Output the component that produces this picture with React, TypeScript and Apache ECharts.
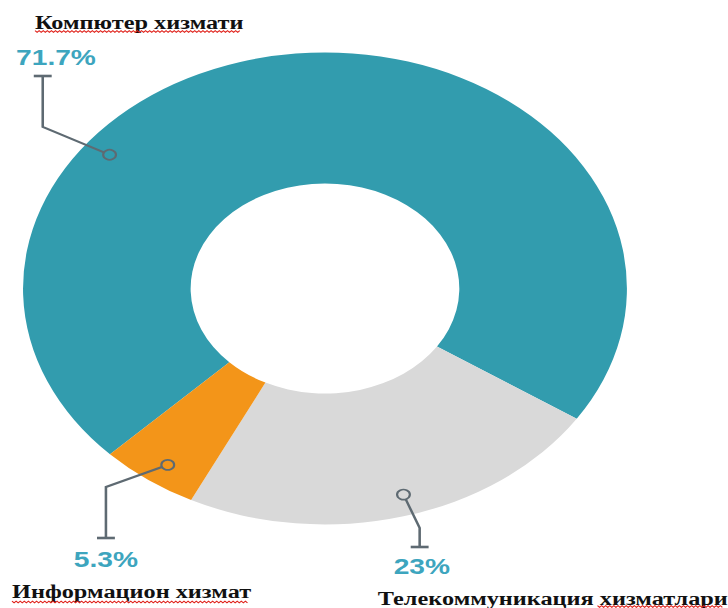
import React, { useEffect, useRef } from "react";
import * as echarts from "echarts";

// ---- data ----
const categories = ["Компютер хизмати", "Телекоммуникация хизматлари", "Информацион хизмат"];
const values = [71.7, 23, 5.3];
const colors = ["#329CAE", "#D9D9D9", "#F39519"];

// ---- layout (chart coordinates, before the horizontal stretch) ----
const CHART_W = 569;
const CHART_H = 608;
const SCALE_X = 728 / CHART_W;
const CENTER: [number, number] = [254, 288.5];
const RADII: [number, number] = [105, 236];
const START_ANGLE = 224.6;

const anchorShift = [46, 1.5, 1];
const anchorR = 215;
const bends = [[33.4, 127], [328, 528], [82.8, 487]];
const ends = [[33.4, 76], [328, 547], [82.8, 538]];
const pctPos = [[43.75, 57.5], [329.7, 566.5], [82.8, 559.5]];
const namePos = [[27.3, 23], [295.3, 599], [9.4, 592]];
const underlines = [[27.4, 187.6, 31.5], [467, 565, 606.5], [9.4, 194, 602]];

const LINE_COLOR = "#5E6A72";
const PCT_COLOR = "#3DA5BE";

export default function App() {
  const ref = useRef<HTMLDivElement>(null);

  useEffect(() => {
    if (!ref.current) return;
    const chart = echarts.init(ref.current, undefined, { renderer: "svg" });

    const total = values.reduce((a, b) => a + b, 0);
    let cum = 0;
    const anchors: number[][] = values.map((v, i) => {
      const start = START_ANGLE - (cum / total) * 360;
      const end = start - (v / total) * 360;
      cum += v;
      const a = (((start + end) / 2 + anchorShift[i]) * Math.PI) / 180;
      return [CENTER[0] + anchorR * Math.cos(a), CENTER[1] - anchorR * Math.sin(a)];
    });
    const circleR = 5;
    const lineStarts = anchors.map((p, i) => {
      const dx = bends[i][0] - p[0];
      const dy = bends[i][1] - p[1];
      const d = Math.sqrt(dx * dx + dy * dy) || 1;
      return [p[0] + (dx / d) * circleR, p[1] + (dy / d) * circleR];
    });

    const graphics: any[] = [];
    anchors.forEach((p, i) => {
      graphics.push({
        type: "polyline",
        shape: { points: [lineStarts[i], bends[i], ends[i]] },
        style: { stroke: LINE_COLOR, lineWidth: 2, fill: "none" },
        silent: true,
        z: 10,
      });
      graphics.push({
        type: "circle",
        shape: { cx: p[0], cy: p[1], r: circleR },
        style: { fill: "none", stroke: LINE_COLOR, lineWidth: 1.7 },
        silent: true,
        z: 10,
      });
    });
    ends.forEach((p) => {
      graphics.push({
        type: "line",
        shape: { x1: p[0] - 7, y1: p[1], x2: p[0] + 7, y2: p[1] },
        style: { stroke: LINE_COLOR, lineWidth: 2.6 },
        silent: true,
        z: 10,
      });
    });
    categories.forEach((name, i) => {
      graphics.push({
        type: "text",
        x: namePos[i][0],
        y: namePos[i][1],
        style: {
          text: name,
          fill: "#111111",
          font: 'bold 19px "Liberation Serif", "Times New Roman", serif',
          align: "left",
          verticalAlign: "middle",
        },
        silent: true,
        z: 10,
      });
    });
    underlines.forEach((u) => {
      const pts: number[][] = [];
      let k = 0;
      for (let x = u[0]; x <= u[1]; x += 1.6) {
        pts.push([x, u[2] + (k % 2 === 0 ? -0.9 : 0.9)]);
        k++;
      }
      graphics.push({
        type: "polyline",
        shape: { points: pts },
        style: { stroke: "#E0231C", lineWidth: 0.9, fill: "none" },
        silent: true,
        z: 10,
      });
    });

    chart.setOption({
      animation: false,
      backgroundColor: "#ffffff",
      series: [
        {
          type: "pie",
          center: CENTER,
          radius: RADII,
          startAngle: START_ANGLE,
          clockwise: true,
          avoidLabelOverlap: false,
          silent: true,
          emphasis: { disabled: true },
          data: categories.map((name, i) => ({
            name,
            value: values[i],
            itemStyle: { color: colors[i] },
          })),
          label: {
            show: true,
            position: "outside",
            formatter: (p: any) => `${p.value}%`,
            color: PCT_COLOR,
            fontFamily: '"Liberation Sans", Arial, sans-serif',
            fontWeight: "bold",
            fontSize: 22,
          },
          labelLine: { show: false },
          labelLayout: (params: any) => {
            const i = params.dataIndex;
            return {
              x: pctPos[i][0],
              y: pctPos[i][1],
              align: "center",
              verticalAlign: "middle",
            };
          },
        },
      ],
      graphic: graphics,
    });

    return () => chart.dispose();
  }, []);

  return (
    <div
      ref={ref}
      style={{
        position: "absolute",
        left: 0,
        top: 0,
        width: CHART_W,
        height: CHART_H,
        transform: `scaleX(${SCALE_X})`,
        transformOrigin: "0 0",
      }}
    />
  );
}
